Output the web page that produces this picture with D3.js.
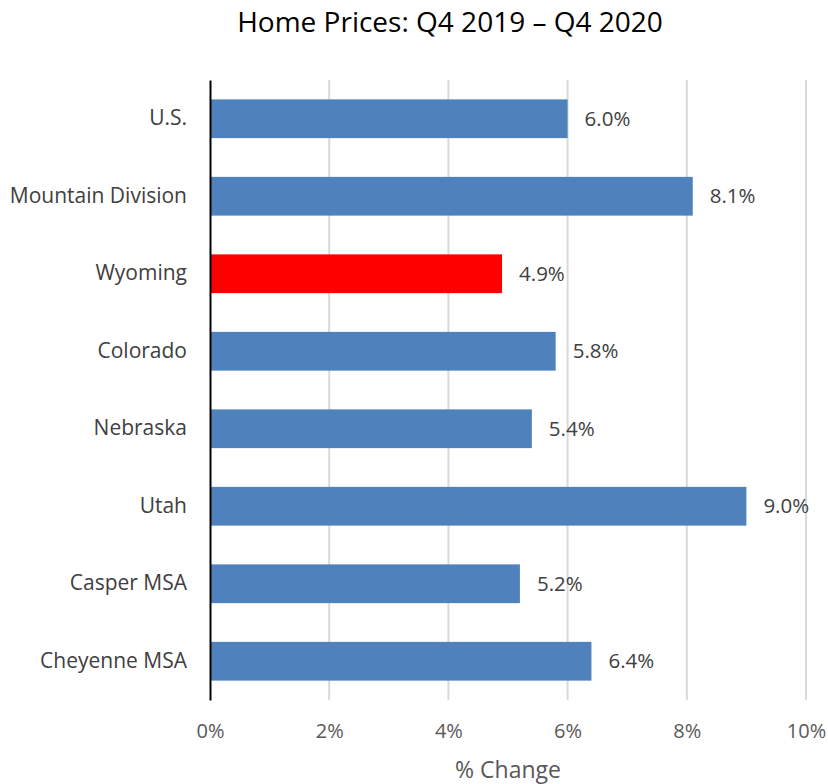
<!DOCTYPE html>
<html>
<head>
<meta charset="utf-8">
<script src="https://cdn.jsdelivr.net/npm/d3@7"></script>
<style>
  body { margin: 0; background: #fff; }
  svg { font-family: "Open Sans", sans-serif; }
</style>
</head>
<body>
<svg id="chart"></svg>
<script>
const categories = ['U.S.', 'Mountain Division', 'Wyoming', 'Colorado', 'Nebraska', 'Utah', 'Casper MSA', 'Cheyenne MSA'];
const values = [6.0, 8.1, 4.9, 5.8, 5.4, 9.0, 5.2, 6.4];
const highlight = 'Wyoming';
const ticks = [0, 2, 4, 6, 8, 10];

const width = 828, height = 784;
const margin = { top: 80, right: 22, bottom: 84, left: 210 };

const svg = d3.select('#chart')
  .attr('width', width)
  .attr('height', height);

const x = d3.scaleLinear()
  .domain([0, 10])
  .range([margin.left, width - margin.right]);

const y = d3.scaleBand()
  .domain(categories)
  .range([margin.top, height - margin.bottom])
  .paddingInner(0.5)
  .paddingOuter(0.25);

// gridlines
svg.append('g')
  .selectAll('line')
  .data(ticks.slice(1))
  .join('line')
  .attr('x1', d => x(d)).attr('x2', d => x(d))
  .attr('y1', margin.top).attr('y2', height - margin.bottom)
  .attr('stroke', '#d9d9d9')
  .attr('stroke-width', 2);

// bars
svg.append('g')
  .selectAll('rect')
  .data(categories)
  .join('rect')
  .attr('x', x(0))
  .attr('y', d => y(d))
  .attr('width', (d, i) => x(values[i]) - x(0))
  .attr('height', y.bandwidth())
  .attr('fill', d => d === highlight ? '#ff0000' : '#4f81bd');

// value labels
svg.append('g')
  .selectAll('text')
  .data(categories)
  .join('text')
  .attr('x', (d, i) => x(values[i]) + 17)
  .attr('y', d => y(d) + y.bandwidth() / 2)
  .attr('dy', '0.35em')
  .attr('fill', '#404040')
  .style('font-size', '20.5px')
  .text((d, i) => values[i].toFixed(1) + '%');

// y axis
const yAxis = svg.append('g')
  .attr('transform', `translate(${margin.left},0)`)
  .call(d3.axisLeft(y).tickSize(0).tickPadding(23));
yAxis.select('.domain').attr('stroke', '#000').attr('stroke-width', 2);
yAxis.selectAll('text')
  .attr('fill', '#404040')
  .style('font-size', '21px')
  .style('font-family', '"Open Sans", sans-serif');

// x axis
const xAxis = svg.append('g')
  .attr('transform', `translate(0,${height - margin.bottom})`)
  .call(d3.axisBottom(x).tickValues(ticks).tickSize(0).tickPadding(24).tickFormat(d => d + '%'));
xAxis.select('.domain').remove();
xAxis.selectAll('text')
  .attr('fill', '#595959')
  .style('font-size', '20px')
  .style('font-family', '"Open Sans", sans-serif');

// axis title
svg.append('text')
  .attr('x', x(5))
  .attr('y', 778)
  .attr('text-anchor', 'middle')
  .attr('fill', '#595959')
  .style('font-size', '23px')
  .text('% Change');

// chart title
svg.append('text')
  .attr('x', 450)
  .attr('y', 32)
  .attr('text-anchor', 'middle')
  .attr('fill', '#000')
  .style('font-size', '28px')
  .text('Home Prices: Q4 2019 – Q4 2020');
</script>
</body>
</html>
